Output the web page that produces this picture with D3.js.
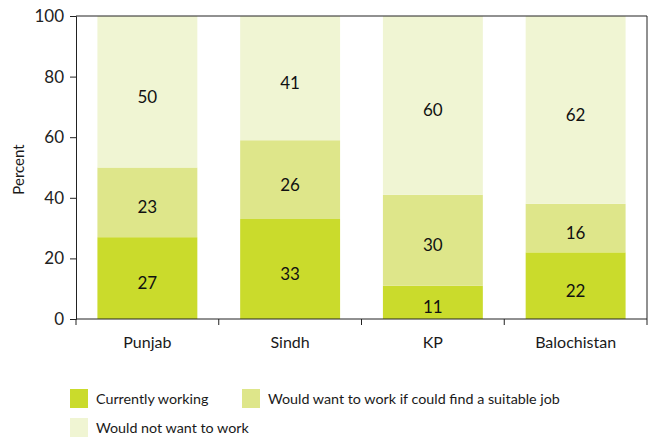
<!DOCTYPE html>
<meta charset="utf-8">
<style>
  body { margin: 0; background: #fff; }
  text { font-family: "Lato", "Open Sans", sans-serif; fill: #1a1a1a; }
</style>
<body>
<script src="https://d3js.org/d3.v7.min.js"></script>
<script>
  var categories = ["Punjab", "Sindh", "KP", "Balochistan"];
  var seriesNames = ["Currently working", "Would want to work if could find a suitable job", "Would not want to work"];
  var working = [27, 33, 11, 22];
  var wouldWant = [23, 26, 30, 16];
  var wouldNot = [50, 41, 60, 62];
  var yTicks = [0, 20, 40, 60, 80, 100];
  var colors = ["#cadb2c", "#dee68a", "#f0f5d3"];

  var W = 652, H = 443;
  var margin = { top: 16, right: 5, bottom: 124, left: 76 },
    width = W - margin.left - margin.right,
    height = H - margin.top - margin.bottom;

  var rows = categories.map(function (c, i) {
    return { cat: c, s0: working[i], s1: wouldWant[i], s2: wouldNot[i] };
  });
  var stacked = d3.stack().keys(["s0", "s1", "s2"])(rows);

  var x = d3.scaleBand().domain(categories).range([0, width])
    .paddingInner(0.3).paddingOuter(0.15);
  // rounded shares can add up to 101, keep bars inside the frame
  var y = d3.scaleLinear().domain([0, 100]).range([height, 0]).clamp(true);

  var svg = d3.select("body").append("svg")
    .attr("width", W).attr("height", H);
  var g = svg.append("g")
    .attr("transform", "translate(" + margin.left + "," + margin.top + ")");

  // bars
  var layers = g.selectAll(".layer")
    .data(stacked)
    .enter().append("g")
    .attr("class", "layer")
    .style("fill", function (d, i) { return colors[i]; });

  layers.selectAll("rect")
    .data(function (d) { return d; })
    .enter().append("rect")
    .attr("x", function (d) { return x(d.data.cat); })
    .attr("y", function (d) { return y(d[1]); })
    .attr("width", x.bandwidth())
    .attr("height", function (d) { return y(d[0]) - y(d[1]); });

  layers.selectAll("text")
    .data(function (d) { return d; })
    .enter().append("text")
    .attr("x", function (d) { return x(d.data.cat) + x.bandwidth() / 2; })
    .attr("y", function (d) { return (y(d[0]) + y(d[1])) / 2 + 5; })
    .attr("dy", "0.35em")
    .attr("text-anchor", "middle")
    .style("font-size", "17px")
    .style("fill", "#111")
    .text(function (d) { return d[1] - d[0]; });

  // frame top + right
  g.append("path")
    .attr("d", "M0," + y(100) + "H" + width + "V" + height)
    .attr("fill", "none")
    .attr("stroke", "#222")
    .attr("stroke-width", 1);

  // y axis
  var yAxis = g.append("g")
    .call(d3.axisLeft(y).tickValues(yTicks).tickSize(6).tickPadding(6));
  yAxis.selectAll("text").style("font-size", "17px").style("fill", "#222");
  yAxis.selectAll("line, path").attr("stroke", "#222");

  // x axis: ticks at category boundaries
  var step = x.step();
  var bounds = d3.range(categories.length + 1).map(function (i) {
    return i === 0 ? 0 : (i === categories.length ? width : x(categories[i - 1]) + x.bandwidth() + step * x.paddingInner() / 2);
  });
  var xAxis = g.append("g").attr("transform", "translate(0," + height + ")");
  xAxis.append("line").attr("x1", 0).attr("x2", width).attr("stroke", "#222");
  xAxis.selectAll(".tk").data(bounds).enter().append("line")
    .attr("x1", function (d) { return d; }).attr("x2", function (d) { return d; })
    .attr("y1", 0).attr("y2", 6).attr("stroke", "#222");
  xAxis.selectAll(".lbl").data(categories).enter().append("text")
    .attr("x", function (d) { return x(d) + x.bandwidth() / 2; })
    .attr("y", 29)
    .attr("text-anchor", "middle")
    .style("font-size", "16px")
    .text(function (d) { return d; });

  // y label
  svg.append("text")
    .attr("transform", "translate(24," + (margin.top + height / 2 + 2) + ") rotate(-90)")
    .attr("text-anchor", "middle")
    .style("font-size", "15px")
    .text("Percent");

  // legend
  var legendPos = [[70, 389], [242, 389], [70, 418]];
  var leg = svg.selectAll(".leg").data(seriesNames).enter().append("g")
    .attr("transform", function (d, i) { return "translate(" + legendPos[i][0] + "," + legendPos[i][1] + ")"; });
  leg.append("rect").attr("width", 18).attr("height", 19)
    .style("fill", function (d, i) { return colors[i]; });
  leg.append("text").attr("x", 26).attr("y", 15)
    .style("font-size", "14.3px")
    .text(function (d) { return d; });
</script>
</body>
